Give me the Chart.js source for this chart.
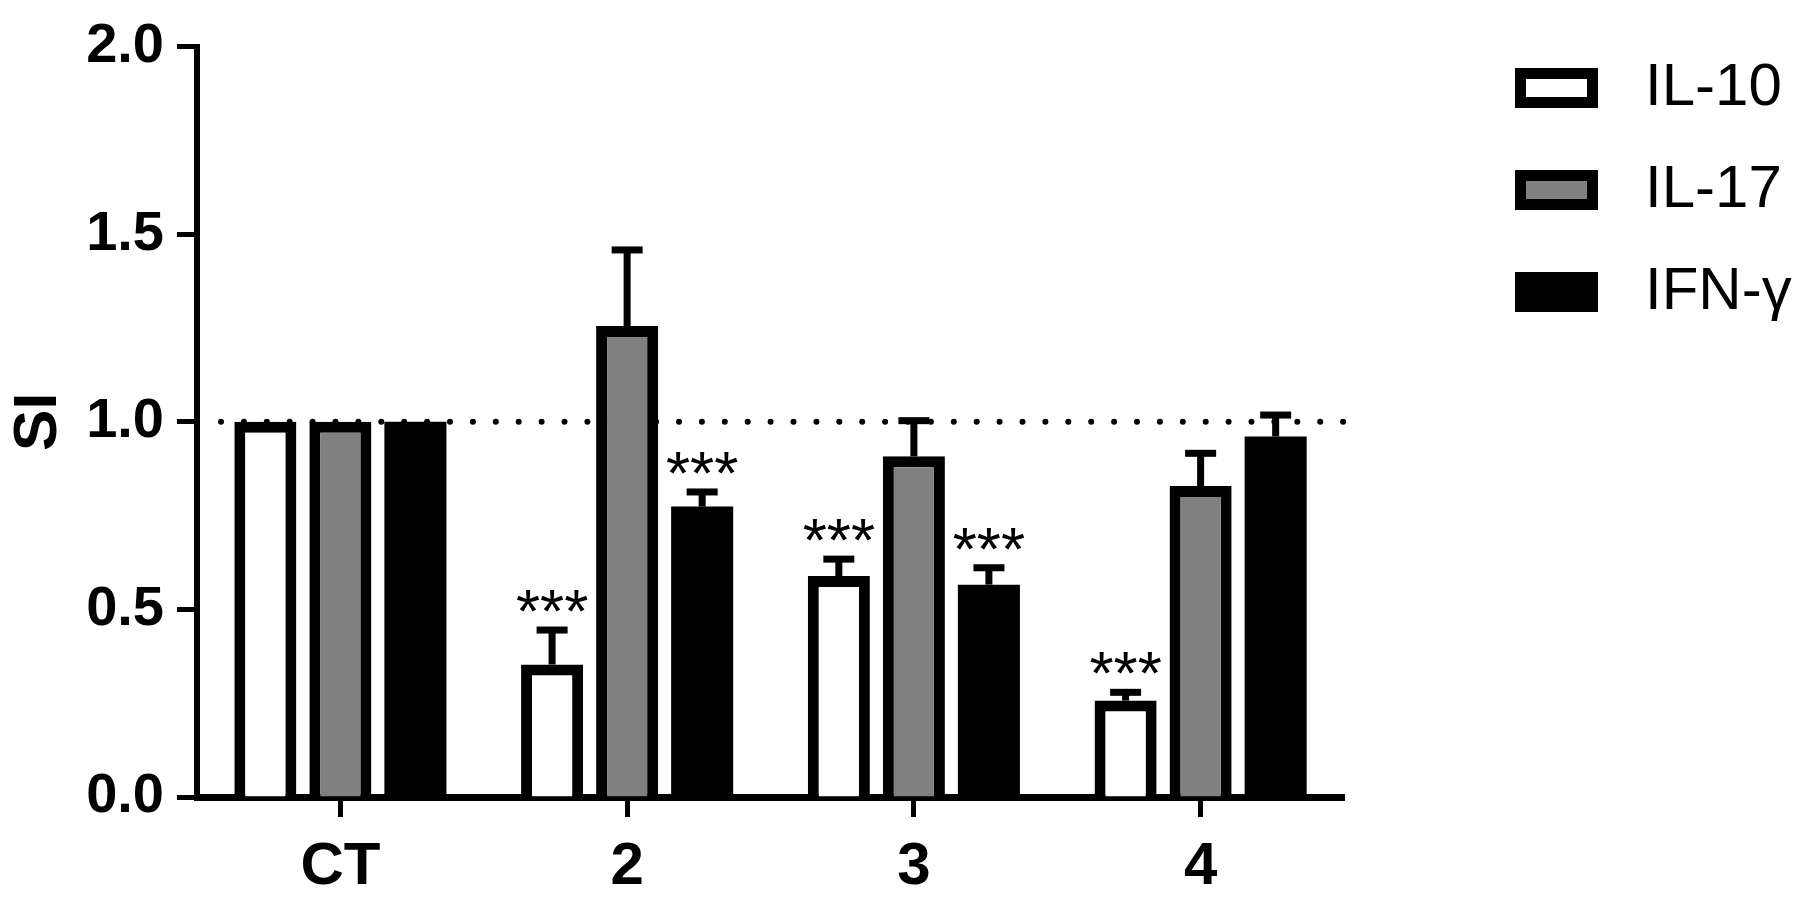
<!DOCTYPE html>
<html>
<head>
<meta charset="utf-8">
<script src="https://cdn.jsdelivr.net/npm/chart.js@4.4.1/dist/chart.umd.min.js"></script>
<style>
html,body{margin:0;padding:0;background:#fff;}
#wrap{width:1800px;height:898px;position:relative;}
</style>
</head>
<body>
<div id="wrap"><canvas id="c" width="1800" height="898"></canvas></div>
<script>
// ---- data ----
const categories = ['CT', '2', '3', '4'];
const seriesNames = ['IL-10', 'IL-17', 'IFN-γ'];
const il10 = [1.0, 0.353, 0.589, 0.257];
const il17 = [1.0, 1.255, 0.908, 0.829];
const ifng = [1.0, 0.774, 0.566, 0.961];
const il10Err = [0, 0.092, 0.045, 0.022];
const il17Err = [0, 0.203, 0.095, 0.087];
const ifngErr = [0, 0.039, 0.045, 0.057];
const il10Sig = ['', '***', '***', '***'];
const il17Sig = ['', '', '', ''];
const ifngSig = ['', '***', '***', ''];
const yTicks = [0, 0.5, 1.0, 1.5, 2.0];
const refLine = 1.0;
const yTitle = 'SI';

const FONT = "'Liberation Sans', Arial, Helvetica, sans-serif";
const fills = ['#ffffff', '#808080', '#000000'];
const borderWidths = [11, 11, 0];
const values = [il10, il17, ifng];
const errs = [il10Err, il17Err, ifngErr];
const sigs = [il10Sig, il17Sig, ifngSig];

const refLinePlugin = {
  id: 'refLine',
  beforeDatasetsDraw(chart) {
    const {ctx, chartArea, scales} = chart;
    const y = scales.y.getPixelForValue(refLine);
    ctx.save();
    ctx.strokeStyle = '#000';
    ctx.lineWidth = 6;
    ctx.lineCap = 'round';
    ctx.setLineDash([0, 22.9]);
    ctx.beginPath();
    ctx.moveTo(chartArea.left + 24, y);
    ctx.lineTo(chartArea.right + 2, y);
    ctx.stroke();
    ctx.restore();
  }
};

const errorPlugin = {
  id: 'errorBars',
  afterDatasetsDraw(chart) {
    const {ctx, scales} = chart;
    ctx.save();
    chart.data.datasets.forEach((ds, di) => {
      const meta = chart.getDatasetMeta(di);
      meta.data.forEach((el, i) => {
        const v = ds.data[i];
        const e = ds.err[i];
        const x = el.x;
        const yTop = scales.y.getPixelForValue(v);
        const yErr = scales.y.getPixelForValue(v + e);
        if (e > 0) {
          ctx.fillStyle = '#000';
          ctx.fillRect(x - 3.5, yErr, 7, yTop - yErr);
          ctx.fillRect(x - 15.5, yErr - 3.5, 31, 7);
        }
        const s = ds.sig[i];
        if (s) {
          ctx.fillStyle = '#000';
          ctx.font = '62px ' + FONT;
          ctx.textAlign = 'center';
          ctx.textBaseline = 'alphabetic';
          ctx.fillText(s, x, yErr + 2);
        }
      });
    });
    ctx.restore();
  }
};

const legendPlugin = {
  id: 'customLegend',
  afterDraw(chart) {
    const {ctx} = chart;
    ctx.save();
    chart.data.datasets.forEach((ds, i) => {
      const bx = 1515, by = 68 + i * 102, bw = 83, bh = 40, b = 11;
      ctx.fillStyle = '#000';
      ctx.fillRect(bx, by, bw, bh);
      ctx.fillStyle = ds.backgroundColor;
      ctx.fillRect(bx + b, by + b, bw - 2 * b, bh - 2 * b);
      ctx.fillStyle = '#000';
      ctx.font = '60px ' + FONT;
      ctx.textAlign = 'left';
      ctx.textBaseline = 'middle';
      ctx.fillText(ds.label, 1645, by + bh / 2);
    });
    ctx.restore();
  }
};

const datasets = seriesNames.map((name, i) => ({
  label: name,
  data: values[i],
  err: errs[i],
  sig: sigs[i],
  backgroundColor: fills[i],
  borderColor: '#000000',
  borderWidth: borderWidths[i],
  categoryPercentage: 0.785,
  barPercentage: 0.827
}));

new Chart(document.getElementById('c'), {
  type: 'bar',
  data: { labels: categories, datasets },
  options: {
    responsive: false,
    animation: false,
    devicePixelRatio: 1,
    layout: { padding: { top: 37, right: 456, bottom: 0, left: 0 } },
    plugins: { legend: { display: false }, tooltip: { enabled: false } },
    scales: {
      x: {
        type: 'category',
        offset: true,
        grid: { display: true, drawOnChartArea: false, drawTicks: true, tickLength: 20, tickWidth: 5, tickColor: '#000', offset: false },
        border: { display: true, color: '#000', width: 7 },
        ticks: { color: '#000', font: { family: FONT, size: 60, weight: 'bold' }, padding: 14, maxRotation: 0, autoSkip: false },
        afterFit: (s) => { s.height = 101; }
      },
      y: {
        min: 0, max: 2,
        grid: { display: true, drawOnChartArea: false, drawTicks: true, tickLength: 20, tickWidth: 5, tickColor: '#000' },
        border: { display: true, color: '#000', width: 6 },
        ticks: { color: '#000', font: { family: FONT, size: 56, weight: 'bold' }, padding: 13, callback: (v) => Number(v).toFixed(1) },
        afterBuildTicks: (s) => { s.ticks = yTicks.map(v => ({ value: v })); },
        title: { display: true, text: yTitle, color: '#000', font: { family: FONT, size: 62, weight: 'bold' }, padding: { top: 2, bottom: 0 } },
        afterFit: (s) => { s.width = 197; }
      }
    }
  },
  plugins: [refLinePlugin, errorPlugin, legendPlugin]
});
</script>
</body>
</html>
